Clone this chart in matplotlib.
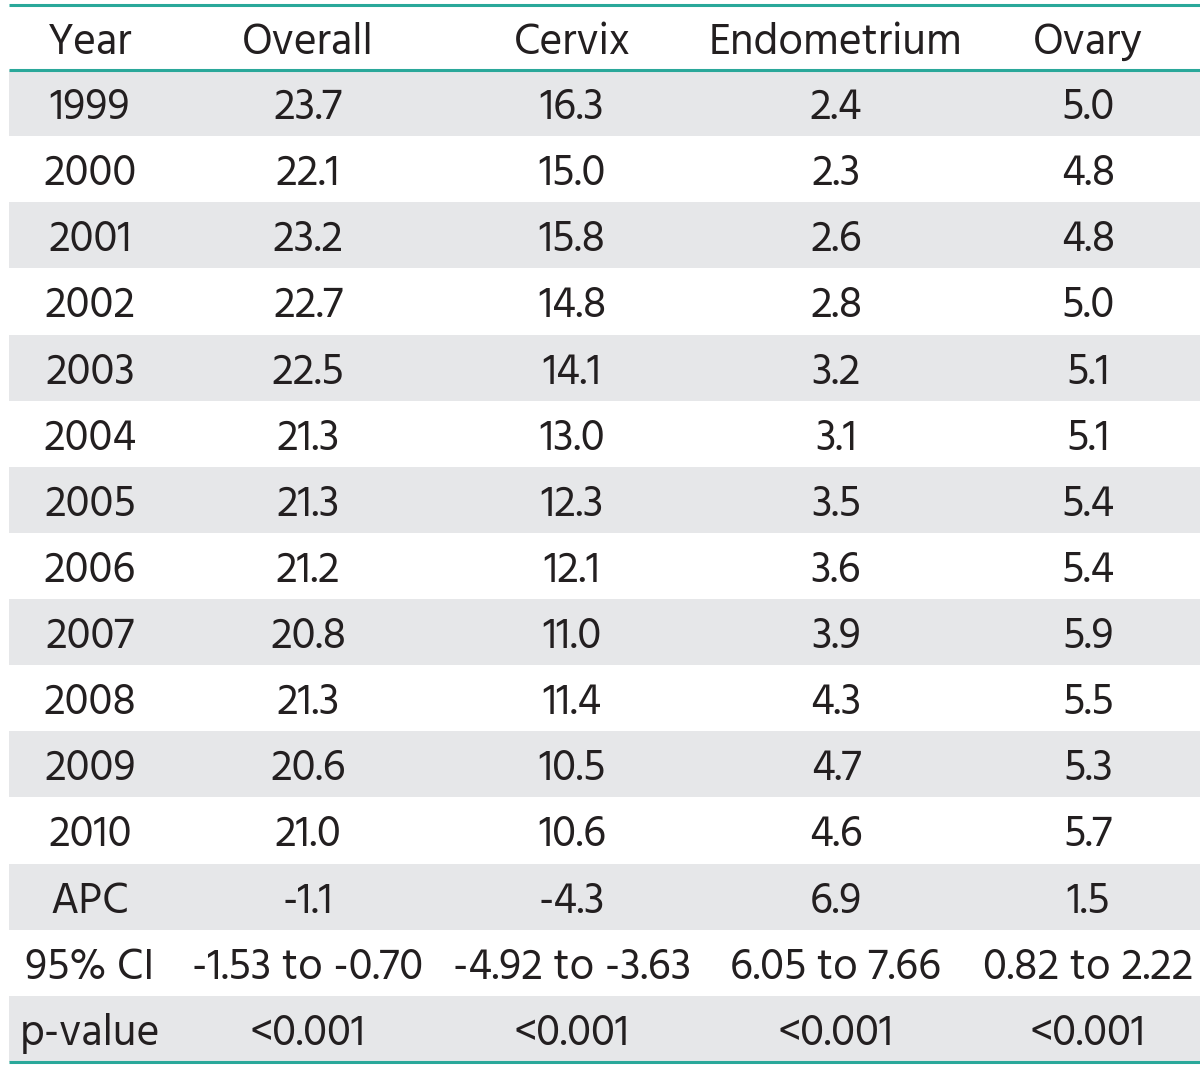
import numpy as np
import matplotlib
matplotlib.use('Agg')
import matplotlib.pyplot as plt

plt.rcParams['font.family'] = ['Hind', 'PT Sans', 'Open Sans', 'DejaVu Sans']

header = ['Year', 'Overall', 'Cervix', 'Endometrium', 'Ovary']
row_labels = ['1999', '2000', '2001', '2002', '2003', '2004', '2005', '2006',
              '2007', '2008', '2009', '2010', 'APC', '95% CI', 'p-value']
overall = ['23.7', '22.1', '23.2', '22.7', '22.5', '21.3', '21.3', '21.2',
           '20.8', '21.3', '20.6', '21.0', '-1.1', '-1.53 to -0.70', '<0.001']
cervix = ['16.3', '15.0', '15.8', '14.8', '14.1', '13.0', '12.3', '12.1',
          '11.0', '11.4', '10.5', '10.6', '-4.3', '-4.92 to -3.63', '<0.001']
endometrium = ['2.4', '2.3', '2.6', '2.8', '3.2', '3.1', '3.5', '3.6',
               '3.9', '4.3', '4.7', '4.6', '6.9', '6.05 to 7.66', '<0.001']
ovary = ['5.0', '4.8', '4.8', '5.0', '5.1', '5.1', '5.4', '5.4',
         '5.9', '5.5', '5.3', '5.7', '1.5', '0.82 to 2.22', '<0.001']

teal = '#2aa89a'
shade = '#e6e7e9'
txt = '#231f20'

W, H = 1200, 1074
fig = plt.figure(figsize=(W / 100, H / 100), dpi=100)
ax = fig.add_axes([0, 0, 1, 1])
ax.set_xlim(0, W)
ax.set_ylim(H, 0)
ax.axis('off')

x0, x1 = 9, 1200
top, head_bot = 5, 70
row_h = 66.13
col_x = [90, 308, 572, 836, 1088]
fs = 31.5

columns = [row_labels, overall, cervix, endometrium, ovary]
n = len(row_labels)

for i in range(n):
    y = head_bot + i * row_h
    if i % 2 == 0:
        ax.add_patch(plt.Rectangle((x0, y), x1 - x0, row_h, color=shade, lw=0))
    for cx, col in zip(col_x, columns):
        ax.text(cx, y + row_h / 2, col[i], ha='center', va='center_baseline',
                fontsize=fs, color=txt)

for cx, h in zip(col_x, header):
    ax.text(cx, (top + head_bot) / 2, h, ha='center', va='center_baseline',
            fontsize=fs, color=txt)

bottom = head_bot + n * row_h
for y in [top, head_bot, bottom]:
    ax.plot([x0, x1], [y, y], color=teal, lw=2.2, solid_capstyle='butt')

fig.savefig('out.png', dpi=100)
